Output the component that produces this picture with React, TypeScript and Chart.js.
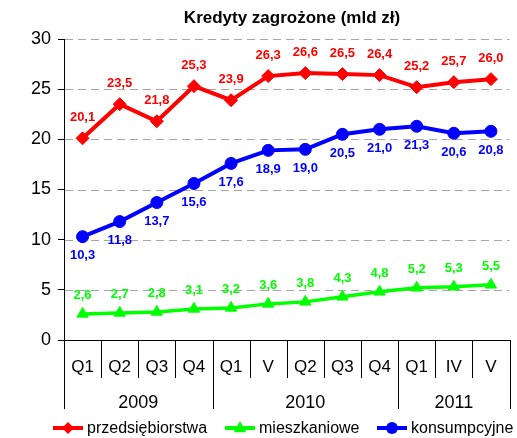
import React, { useEffect, useRef } from "react";
import { Chart, registerables } from "chart.js";

Chart.register(...registerables);

const categories = ["Q1", "Q2", "Q3", "Q4", "Q1", "V", "Q2", "Q3", "Q4", "Q1", "IV", "V"];
const years = ["2009", "2010", "2011"];
const yearSpans = [4, 5, 3];
const przedsiebiorstwa = [20.1, 23.5, 21.8, 25.3, 23.9, 26.3, 26.6, 26.5, 26.4, 25.2, 25.7, 26.0];
const mieszkaniowe = [2.6, 2.7, 2.8, 3.1, 3.2, 3.6, 3.8, 4.3, 4.8, 5.2, 5.3, 5.5];
const konsumpcyjne = [10.3, 11.8, 13.7, 15.6, 17.6, 18.9, 19.0, 20.5, 21.0, 21.3, 20.6, 20.8];
const titleText = "Kredyty zagrożone (mld zł)";

const FONT = "'Liberation Sans', Arial, sans-serif";
const RED = "#ff0000";
const GREEN = "#00ff00";
const BLUE = "#0000ff";

const fmt = (v: number) => v.toFixed(1).replace(".", ",");

function drawMarker(ctx: CanvasRenderingContext2D, style: string, x: number, y: number, color: string) {
  ctx.fillStyle = color;
  ctx.beginPath();
  if (style === "circle") {
    ctx.arc(x, y, 6, 0, Math.PI * 2);
  } else if (style === "rectRot") {
    const r = 6;
    ctx.moveTo(x, y - r);
    ctx.lineTo(x + r, y);
    ctx.lineTo(x, y + r);
    ctx.lineTo(x - r, y);
    ctx.closePath();
  } else {
    const r = 7;
    ctx.moveTo(x, y - r);
    ctx.lineTo(x + r * 0.9, y + r * 0.6);
    ctx.lineTo(x - r * 0.9, y + r * 0.6);
    ctx.closePath();
  }
  ctx.fill();
}

const customPlugin = {
  id: "custom",
  beforeDatasetsDraw(chart: any) {
    const ctx = chart.ctx;
    const area = chart.chartArea;
    const ys = chart.scales.y;
    ctx.save();
    ctx.strokeStyle = "#a6a6a6";
    ctx.lineWidth = 1;
    ctx.setLineDash([8, 5]);
    ys.ticks.forEach((t: any) => {
      if (t.value === 0) return;
      const y = Math.round(ys.getPixelForValue(t.value)) + 0.5;
      ctx.beginPath();
      ctx.moveTo(area.left + 1, y);
      ctx.lineTo(area.right, y);
      ctx.stroke();
    });
    ctx.restore();
  },
  afterDatasetsDraw(chart: any) {
    const ctx = chart.ctx;
    ctx.save();
    ctx.font = `bold 13px ${FONT}`;
    ctx.textAlign = "center";
    ctx.textBaseline = "middle";
    const offsets = [-21, -18, 19];
    chart.data.datasets.forEach((ds: any, di: number) => {
      const meta = chart.getDatasetMeta(di);
      ctx.fillStyle = ds.borderColor;
      meta.data.forEach((pt: any, i: number) => {
        ctx.fillText(fmt(ds.data[i]), pt.x, pt.y + offsets[di]);
      });
    });
    ctx.restore();
  },
  afterDraw(chart: any) {
    const ctx = chart.ctx;
    const area = chart.chartArea;
    const xs = chart.scales.x;
    ctx.save();
    // title
    ctx.fillStyle = "#000";
    ctx.font = `bold 17px ${FONT}`;
    ctx.textAlign = "center";
    ctx.textBaseline = "middle";
    ctx.fillText(titleText, 292, 18);

    // category separators and labels
    const n = categories.length;
    const step = xs.getPixelForValue(1) - xs.getPixelForValue(0);
    const bottom = area.bottom;
    ctx.strokeStyle = "#000";
    ctx.lineWidth = 1;
    const longIdx = new Set<number>();
    let acc = 0;
    longIdx.add(0);
    yearSpans.forEach((s) => { acc += s; longIdx.add(acc); });
    for (let i = 0; i <= n; i++) {
      const x = Math.round(xs.getPixelForValue(0) - step / 2 + i * step) + 0.5;
      ctx.beginPath();
      ctx.moveTo(x, bottom);
      ctx.lineTo(x, longIdx.has(i) ? bottom + 69 : bottom + 38);
      ctx.stroke();
    }
    ctx.font = `17px ${FONT}`;
    categories.forEach((c, i) => {
      ctx.fillText(c, xs.getPixelForValue(i), bottom + 27);
    });
    ctx.font = `18px ${FONT}`;
    let start = 0;
    years.forEach((y, yi) => {
      const s = yearSpans[yi];
      const cx = (xs.getPixelForValue(start) + xs.getPixelForValue(start + s - 1)) / 2;
      ctx.fillText(y, cx, bottom + 63);
      start += s;
    });

    // legend
    const ly = 428;
    const items = [
      { label: "przedsiębiorstwa", color: RED, style: "rectRot", x: 53 },
      { label: "mieszkaniowe", color: GREEN, style: "triangle", x: 225 },
      { label: "konsumpcyjne", color: BLUE, style: "circle", x: 377 },
    ];
    ctx.font = `16px ${FONT}`;
    ctx.textAlign = "left";
    items.forEach((it) => {
      ctx.strokeStyle = it.color;
      ctx.lineWidth = 4;
      ctx.beginPath();
      ctx.moveTo(it.x, ly);
      ctx.lineTo(it.x + 30, ly);
      ctx.stroke();
      drawMarker(ctx, it.style, it.x + 15, ly, it.color);
      ctx.fillStyle = "#000";
      ctx.fillText(it.label, it.x + 34, ly + 1);
    });
    ctx.restore();
  },
};

export default function App() {
  const ref = useRef<HTMLCanvasElement>(null);
  useEffect(() => {
    if (!ref.current) return;
    const common = { tension: 0, pointBorderWidth: 1, pointHoverRadius: 6 };
    const chart = new Chart(ref.current, {
      type: "line",
      data: {
        labels: categories,
        datasets: [
          {
            ...common,
            label: "przedsiębiorstwa",
            data: przedsiebiorstwa,
            borderColor: RED,
            backgroundColor: RED,
            borderWidth: 4,
            pointStyle: "rectRot",
            pointRadius: 6.5,
          },
          {
            ...common,
            label: "mieszkaniowe",
            data: mieszkaniowe,
            borderColor: GREEN,
            backgroundColor: GREEN,
            borderWidth: 3.5,
            pointStyle: "triangle",
            pointRadius: 6.5,
          },
          {
            ...common,
            label: "konsumpcyjne",
            data: konsumpcyjne,
            borderColor: BLUE,
            backgroundColor: BLUE,
            borderWidth: 4,
            pointStyle: "circle",
            pointRadius: 6,
          },
        ],
      },
      options: {
        responsive: false,
        animation: false,
        layout: { padding: { top: 39, bottom: 98, right: 7, left: 0 } },
        plugins: {
          legend: { display: false },
          title: { display: false },
          tooltip: { enabled: false },
        },
        scales: {
          x: {
            offset: true,
            ticks: { display: false },
            grid: { display: false },
            border: { display: true, color: "#000", width: 1 },
            afterFit: (s: any) => { s.height = 0; },
          },
          y: {
            min: 0,
            max: 30,
            ticks: {
              stepSize: 5,
              color: "#000",
              font: { family: FONT, size: 18 },
              padding: 7,
            },
            grid: {
              color: "rgba(0,0,0,0)",
              tickColor: "#000",
              tickLength: 6,
            },
            border: { display: true, color: "#000", width: 1 },
            afterFit: (s: any) => { s.width = 64; },
          },
        },
      },
      plugins: [customPlugin],
    } as any);
    return () => chart.destroy();
  }, []);
  return (
    <div style={{ position: "fixed", left: 0, top: 0, width: 517, height: 438, background: "#fff" }}>
      <canvas ref={ref} width={517} height={438} />
    </div>
  );
}
